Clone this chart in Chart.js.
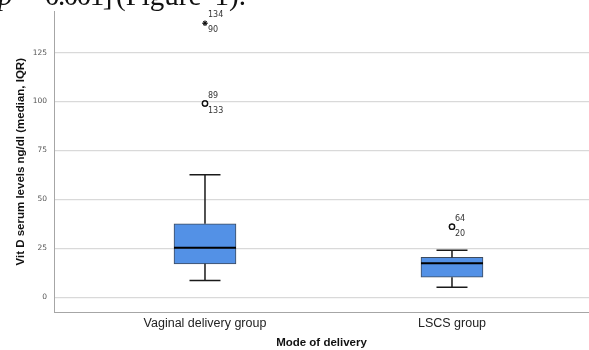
<!DOCTYPE html>
<html>
<head>
<meta charset="utf-8">
<script src="https://cdn.jsdelivr.net/npm/chart.js@4/dist/chart.umd.min.js"></script>
<style>
  html, body { margin: 0; padding: 0; background: #fff; }
  #wrap { position: relative; width: 589px; height: 350px; overflow: hidden; }
  #chart { position: absolute; left: 0; top: 0; }
  #cite {
    position: absolute; left: 0; top: -19px; width: 300px; height: 30px;
    font-family: "Liberation Serif", "DejaVu Serif", serif; font-size: 29px; line-height: 29px; color: #111;
  }
  #cite span { position: absolute; top: 0; white-space: nowrap; }
  #cite i { font-style: italic; }
</style>
</head>
<body>
<div id="wrap">
  <canvas id="chart" width="589" height="350"></canvas>
  <div id="cite"><span style="left:-2px"><i>p</i></span><span style="left:18px">=</span><span style="left:45px; letter-spacing:-1.5px">0.001]</span><span style="left:116px; word-spacing:6px">(Figure 1).</span></div>
</div>
<script>
// Vitamin D by mode of delivery: five-number summaries per group
const groups = ['Vaginal delivery group', 'LSCS group'];
const whiskerLow = [8.5, 5.1];
const q1 = [17, 10.2];
const median = [25.3, 17.3];
const q3 = [37.5, 20.3];
const whiskerHigh = [62.5, 24];

// Outlying cases (value, case number, group index)
const outlierValues = [99, 99, 36, 36];
const outlierCases = ['89', '133', '64', '20'];
const outlierGroup = [0, 0, 1, 1];
const extremeValues = [140, 140];
const extremeCases = ['134', '90'];
const extremeGroup = [0, 0];

const yTicks = [0, 25, 50, 75, 100, 125];

const BOX_WIDTH = 62;
const CAP_WIDTH = 31;

const boxData = groups.map((g, i) => ({ x: i + 1, y: [q1[i], q3[i]] }));
const outlierPoints = outlierValues.map((v, i) => ({ x: outlierGroup[i] + 1, y: v }));
const extremePoints = extremeValues.map((v, i) => ({ x: extremeGroup[i] + 1, y: v }));

// Whiskers, caps, medians and case labels drawn on the chart's scales
const boxPlotExtras = {
  id: 'boxPlotExtras',
  afterDatasetsDraw(chart) {
    const { ctx, scales: { x, y } } = chart;
    ctx.save();
    groups.forEach((g, i) => {
      const cx = x.getPixelForValue(i + 1);
      const pLo = y.getPixelForValue(whiskerLow[i]);
      const pQ1 = y.getPixelForValue(q1[i]);
      const pQ3 = y.getPixelForValue(q3[i]);
      const pHi = y.getPixelForValue(whiskerHigh[i]);
      ctx.strokeStyle = '#1a1a1a';
      ctx.lineWidth = 1.5;
      ctx.beginPath();
      ctx.moveTo(cx, pQ3); ctx.lineTo(cx, pHi);
      ctx.moveTo(cx - CAP_WIDTH / 2, pHi); ctx.lineTo(cx + CAP_WIDTH / 2, pHi);
      ctx.moveTo(cx, pQ1); ctx.lineTo(cx, pLo);
      ctx.moveTo(cx - CAP_WIDTH / 2, pLo); ctx.lineTo(cx + CAP_WIDTH / 2, pLo);
      ctx.stroke();
      const pMed = y.getPixelForValue(median[i]);
      ctx.lineWidth = 2;
      ctx.strokeStyle = '#000';
      ctx.beginPath();
      ctx.moveTo(cx - BOX_WIDTH / 2, pMed); ctx.lineTo(cx + BOX_WIDTH / 2, pMed);
      ctx.stroke();
    });

    // case numbers beside the outlying points: first above-right, second below-right
    ctx.fillStyle = '#333';
    ctx.font = '8px "DejaVu Sans", sans-serif';
    ctx.textAlign = 'left';
    ctx.textBaseline = 'middle';
    const labelPairs = (values, cases, grp) => {
      values.forEach((v, i) => {
        const px = x.getPixelForValue(grp[i] + 1);
        const py = y.getPixelForValue(v);
        const above = (i % 2 === 0);
        ctx.fillText(cases[i], px + 3, above ? py - 8 : py + 7);
      });
    };
    labelPairs(outlierValues, outlierCases, outlierGroup);
    labelPairs(extremeValues, extremeCases, extremeGroup);
    ctx.restore();
  }
};

new Chart(document.getElementById('chart'), {
  type: 'bar',
  data: {
    datasets: [
      {
        type: 'bar',
        data: boxData,
        backgroundColor: '#5391e6',
        borderColor: '#3d4a5c',
        borderWidth: 1,
        borderSkipped: false,
        barThickness: BOX_WIDTH,
        order: 2
      },
      {
        type: 'scatter',
        data: outlierPoints,
        pointStyle: 'circle',
        pointRadius: 2.6,
        pointBackgroundColor: '#fff',
        pointBorderColor: '#111',
        pointBorderWidth: 1.3,
        order: 1
      },
      {
        type: 'scatter',
        data: extremePoints,
        pointStyle: 'star',
        pointRadius: 2.6,
        pointBorderColor: '#111',
        pointBorderWidth: 0.9,
        order: 1
      }
    ]
  },
  options: {
    responsive: false,
    animation: false,
    events: [],
    layout: { autoPadding: false, padding: { top: 10, right: 0, left: 0, bottom: 0 } },
    plugins: { legend: { display: false }, tooltip: { enabled: false } },
    scales: {
      x: {
        type: 'linear',
        offset: false,
        min: 0.3887,
        max: 2.5547,
        afterBuildTicks: s => { s.ticks = groups.map((g, i) => ({ value: i + 1 })); },
        afterFit: s => { s.height = 38; },
        grid: { display: false, drawTicks: false },
        border: { display: true, color: '#a6a6a6', width: 1 },
        ticks: {
          callback: v => groups[v - 1],
          color: '#222',
          font: { family: '"Liberation Sans", sans-serif', size: 12.5 },
          padding: 4,
          maxRotation: 0,
          autoSkip: false
        },
        title: {
          display: true,
          text: 'Mode of delivery',
          color: '#111',
          font: { family: '"Liberation Sans", sans-serif', size: 11.5, weight: 'bold' },
          padding: { top: 0, bottom: 0 }
        }
      },
      y: {
        min: -7.6,
        max: 146,
        afterBuildTicks: s => { s.ticks = yTicks.map(v => ({ value: v })); },
        afterFit: s => { s.width = 54; },
        grid: { color: '#d9d9d9', lineWidth: 1.2, drawTicks: false },
        border: { display: true, color: '#a6a6a6', width: 1 },
        ticks: {
          color: '#555',
          font: { family: '"DejaVu Sans", sans-serif', size: 7.5 },
          padding: 7
        },
        title: {
          display: true,
          text: 'Vit D serum levels ng/dl (median, IQR)',
          color: '#111',
          font: { family: '"Liberation Sans", sans-serif', size: 11.5, weight: 'bold' },
          padding: { top: 14, bottom: 0 }
        }
      }
    }
  },
  plugins: [boxPlotExtras]
});
</script>
</body>
</html>
